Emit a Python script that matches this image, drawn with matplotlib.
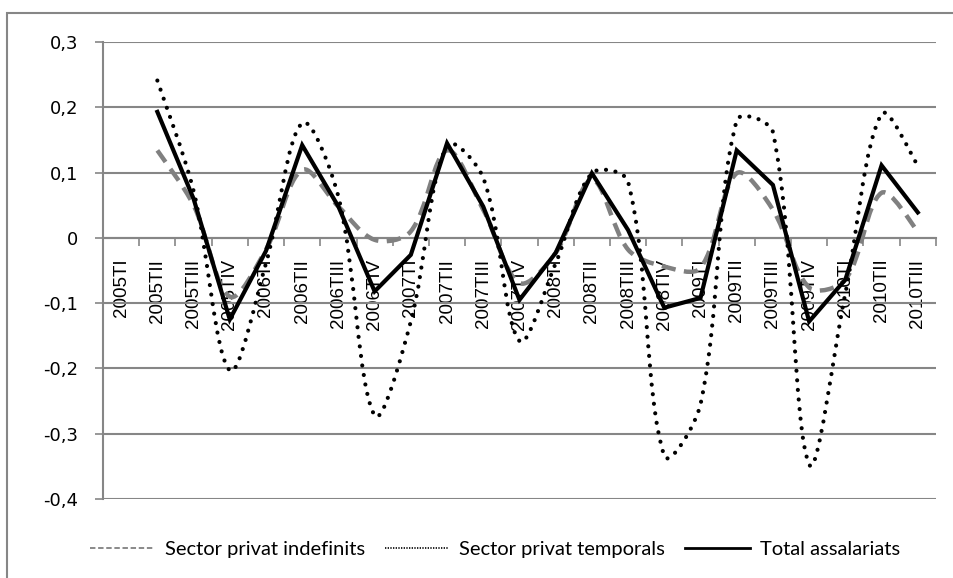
import numpy as np
import matplotlib.pyplot as plt
from matplotlib.path import Path
from matplotlib.patches import PathPatch, Rectangle
from matplotlib.lines import Line2D

quarters = ["2005TI", "2005TII", "2005TIII", "2005TIV",
            "2006TI", "2006TII", "2006TIII", "2006TIV",
            "2007TI", "2007TII", "2007TIII", "2007TIV",
            "2008TI", "2008TII", "2008TIII", "2008TIV",
            "2009TI", "2009TII", "2009TIII", "2009TIV",
            "2010TI", "2010TII", "2010TIII"]

# series start at 2005TII
indefinits = [0.134, 0.050, -0.090, -0.018, 0.104, 0.048, -0.003,
              0.010, 0.134, 0.043, -0.069, -0.023, 0.089, -0.018, -0.044,
              -0.046, 0.099, 0.043, -0.076, -0.064, 0.069, 0.010]
temporals = [0.241, 0.072, -0.203, -0.039, 0.176, 0.063, -0.272,
             -0.128, 0.142, 0.092, -0.158, -0.039, 0.099, 0.086, -0.334,
             -0.255, 0.180, 0.162, -0.347, -0.085, 0.190, 0.111]
total = [0.193, 0.060, -0.125, -0.020, 0.142, 0.048, -0.082,
         -0.026, 0.145, 0.048, -0.095, -0.023, 0.099, 0.012, -0.107,
         -0.092, 0.134, 0.081, -0.128, -0.064, 0.111, 0.039]

GRID = "#868686"


def smooth_path(x, y, sx=36.2, sy=655.0):
    # Excel style smoothed line, tangents weighted by segment length (in pixels)
    pts = np.column_stack([np.asarray(x) * sx, np.asarray(y) * sy])
    n = len(pts)
    verts = [pts[0]]
    codes = [Path.MOVETO]
    for i in range(n - 1):
        p0 = pts[i - 1] if i > 0 else pts[i]
        p1 = pts[i]
        p2 = pts[i + 1]
        p3 = pts[i + 2] if i + 2 < n else pts[i + 1]
        d01 = np.hypot(*(p1 - p0))
        d12 = np.hypot(*(p2 - p1))
        d23 = np.hypot(*(p3 - p2))
        c1 = p1 + (p2 - p0) * (d12 / (d01 + d12) / 3.0 if d01 > 0 else 1 / 6.0)
        c2 = p2 - (p3 - p1) * (d12 / (d12 + d23) / 3.0 if d23 > 0 else 1 / 6.0)
        verts += [c1, c2, p2]
        codes += [Path.CURVE4] * 3
    verts = np.array(verts) / [sx, sy]
    return Path(verts, codes)


fig = plt.figure(figsize=(9.54, 5.78), dpi=100)
ax = fig.add_axes([0.108, 0.1367, 0.873, 0.7906])
# chart frame, cropped on the right and bottom
fig.patches.append(Rectangle((0.0075, -0.1), 1.2, 1.1 - 13 / 578, transform=fig.transFigure,
                             fill=False, edgecolor=GRID, linewidth=1.5))

x = np.arange(1, len(quarters))

ax.add_patch(PathPatch(smooth_path(x, indefinits), fill=False, edgecolor="#808080",
                       linewidth=3.2, linestyle=(0, (3.2, 1.9)), capstyle="butt", zorder=3))
ax.add_patch(PathPatch(smooth_path(x, temporals), fill=False, edgecolor="black",
                       linewidth=3.0, linestyle=(0, (0.01, 2.3)), capstyle="round", zorder=4))
ax.plot(x, total, color="black", linewidth=3.0, solid_joinstyle="miter", zorder=5)

ax.set_xlim(-0.5, len(quarters) - 0.5)
ax.set_ylim(-0.4, 0.3)
yt = np.arange(-0.4, 0.31, 0.1)
ax.set_yticks(yt)
ax.set_yticklabels([("%.1f" % v).replace(".", ",").replace("-0,0", "0").replace("0,0", "0") for v in yt],
                   fontfamily="DejaVu Sans", fontsize=13)
ax.yaxis.grid(True, color=GRID, linewidth=1.5)
ax.set_axisbelow(True)

for s in ["top", "right"]:
    ax.spines[s].set_visible(False)
ax.spines["left"].set_color(GRID)
ax.spines["left"].set_linewidth(1.5)
ax.spines["bottom"].set_position(("data", 0))
ax.spines["bottom"].set_color(GRID)
ax.spines["bottom"].set_linewidth(1.5)
ax.tick_params(axis="y", length=6, color=GRID, width=1.2, pad=12)

ax.set_xticks(np.arange(len(quarters) + 1) - 0.5)
ax.set_xticklabels([])
ax.tick_params(axis="x", which="major", length=6, color=GRID, width=1.2)
ax.set_xticks(np.arange(len(quarters)), minor=True)
ax.set_xticklabels(quarters, minor=True, rotation=90, fontfamily="Liberation Sans",
                   fontsize=13.5, va="top")
ax.tick_params(axis="x", which="minor", length=0, pad=15)

handles = [Line2D([], [], color="#808080", linewidth=1.3, linestyle=(0, (3, 1.5))),
           Line2D([], [], color="black", linewidth=1.2, linestyle=(0, (0.8, 0.8))),
           Line2D([], [], color="black", linewidth=2.0)]
fig.legend(handles, ["Sector privat indefinits", "Sector privat temporals", "Total assalariats"],
           loc="center", bbox_to_anchor=(0.519, 0.05), ncol=3, frameon=False,
           handlelength=3.2, columnspacing=1.0, handletextpad=0.5,
           prop={"family": "Lato", "size": 14.5})

fig.savefig("out.png", dpi=100)
